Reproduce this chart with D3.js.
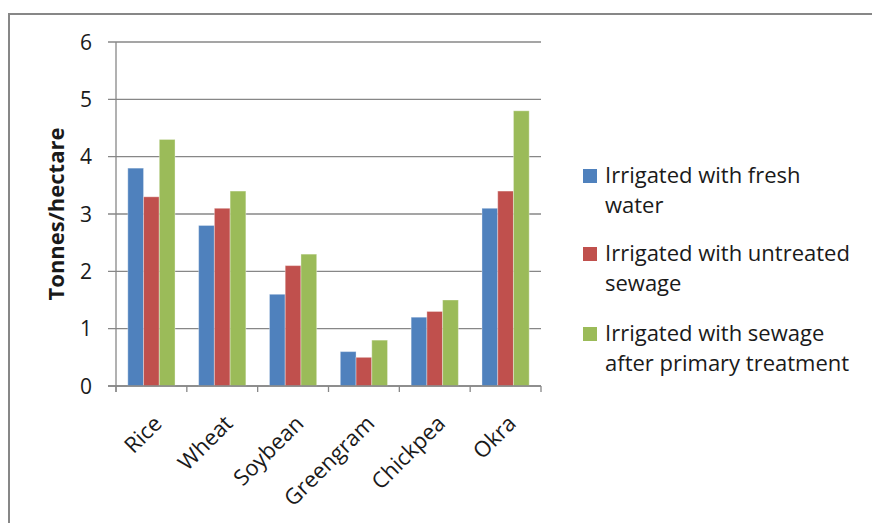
<!DOCTYPE html>
<html>
<head>
<meta charset="utf-8">
<script src="https://cdn.jsdelivr.net/npm/d3@7"></script>
<style>
  html, body { margin: 0; padding: 0; background: #fff; }
  svg { display: block; }
  text { font-family: "Open Sans", sans-serif; fill: #1a1a1a; }
</style>
</head>
<body>
<svg id="chart" width="872" height="523"></svg>
<script>
// Crop yields by irrigation source
const crops = ["Rice", "Wheat", "Soybean", "Greengram", "Chickpea", "Okra"];
const freshWater = [3.8, 2.8, 1.6, 0.6, 1.2, 3.1];
const untreatedSewage = [3.3, 3.1, 2.1, 0.5, 1.3, 3.4];
const primaryTreated = [4.3, 3.4, 2.3, 0.8, 1.5, 4.8];
const yTicks = [0, 1, 2, 3, 4, 5, 6];

const seriesNames = [
  ["Irrigated with fresh", "water"],
  ["Irrigated with untreated", "sewage"],
  ["Irrigated with sewage", "after primary treatment"]
];
const seriesValues = [freshWater, untreatedSewage, primaryTreated];
const colors = ["#4F81BD", "#C0504D", "#9BBB59"];

const svg = d3.select("#chart");

// outer chart frame
svg.append("rect")
  .attr("x", 9).attr("y", 14)
  .attr("width", 900).attr("height", 560)
  .attr("fill", "none")
  .attr("stroke", "#878787")
  .attr("stroke-width", 2);

const plot = { left: 116, right: 541, top: 42, bottom: 386 };

const x0 = d3.scaleBand().domain(crops).range([plot.left, plot.right]);
// three bars per group with a gap of 1.5 bar widths between groups
const barW = x0.bandwidth() / 4.5;
const y = d3.scaleLinear().domain([0, 6]).range([plot.bottom, plot.top]);

// gridlines
svg.append("g")
  .selectAll("line")
  .data(yTicks)
  .join("line")
  .attr("x1", plot.left - 8).attr("x2", plot.right)
  .attr("y1", d => y(d)).attr("y2", d => y(d))
  .attr("stroke", "#878787").attr("stroke-width", 1.3);

// y axis line
svg.append("line")
  .attr("x1", plot.left).attr("x2", plot.left)
  .attr("y1", plot.top).attr("y2", plot.bottom + 6)
  .attr("stroke", "#878787").attr("stroke-width", 1.3);

// y tick labels
svg.append("g")
  .selectAll("text")
  .data(yTicks)
  .join("text")
  .attr("x", 92)
  .attr("y", d => y(d))
  .attr("dy", "0.36em")
  .attr("text-anchor", "end")
  .style("font-size", "21px")
  .text(d => d);

// y axis title
svg.append("text")
  .attr("transform", `translate(64,${(plot.top + plot.bottom) / 2}) rotate(-90)`)
  .attr("text-anchor", "middle")
  .style("font-size", "22px")
  .style("font-weight", "bold")
  .text("Tonnes/hectare");

// x category tick marks
const boundaries = crops.map(c => x0(c)).concat([plot.right]);
svg.append("g")
  .selectAll("line")
  .data(boundaries)
  .join("line")
  .attr("x1", d => d).attr("x2", d => d)
  .attr("y1", plot.bottom).attr("y2", plot.bottom + 6)
  .attr("stroke", "#878787").attr("stroke-width", 1.3);

// bars
const groups = svg.append("g")
  .selectAll("g")
  .data(crops)
  .join("g")
  .attr("transform", c => `translate(${x0(c)},0)`);

groups.selectAll("rect")
  .data((c, i) => seriesValues.map((vals, s) => ({ s, v: vals[i] })))
  .join("rect")
  .attr("x", d => barW * 0.75 + d.s * barW)
  .attr("width", barW)
  .attr("y", d => y(d.v))
  .attr("height", d => y(0) - y(d.v))
  .attr("fill", d => colors[d.s])
  .attr("stroke", "rgba(255,255,255,0.35)")
  .attr("stroke-width", 1);

// baseline
svg.append("line")
  .attr("x1", plot.left - 8).attr("x2", plot.right)
  .attr("y1", plot.bottom).attr("y2", plot.bottom)
  .attr("stroke", "#878787").attr("stroke-width", 1.3);

// rotated category labels
svg.append("g")
  .selectAll("text")
  .data(crops)
  .join("text")
  .attr("transform", c => `translate(${x0(c) + x0.bandwidth() / 2 + 1},${plot.bottom + 28}) rotate(-45)`)
  .attr("text-anchor", "end")
  .attr("dy", "0.7em")
  .style("font-size", "22px")
  .text(c => c);

// legend
const legend = svg.append("g");
const legendTop = [169, 247, 327];
seriesNames.forEach((lines, i) => {
  const g = legend.append("g").attr("transform", `translate(583,${legendTop[i]})`);
  g.append("rect")
    .attr("width", 14).attr("height", 14)
    .attr("fill", colors[i]);
  lines.forEach((t, j) => {
    g.append("text")
      .attr("x", 22)
      .attr("y", 14 + j * 30)
      .style("font-size", "22px")
      .text(t);
  });
});
</script>
</body>
</html>
